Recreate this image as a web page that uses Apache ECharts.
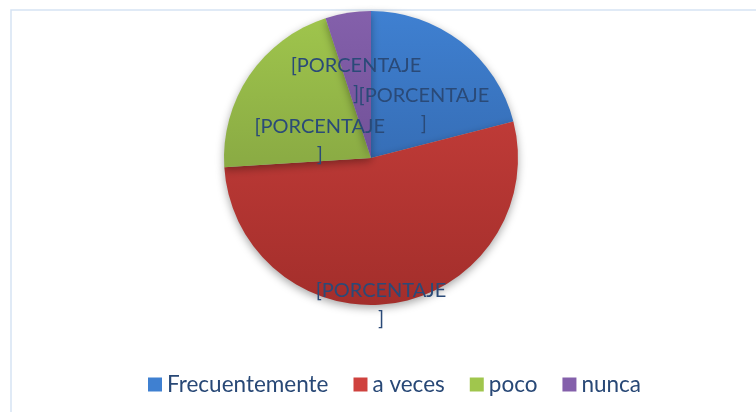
<!DOCTYPE html>
<html>
<head>
<meta charset="utf-8">
<script src="https://cdn.jsdelivr.net/npm/echarts@6/dist/echarts.min.js"></script>
<style>
  html, body { margin: 0; padding: 0; background: #fff; }
  #chart { width: 756px; height: 412px; }
</style>
</head>
<body>
<div id="chart"></div>
<script>
var categories = ['Frecuentemente', 'a veces', 'poco', 'nunca'];
var values = [21, 53, 21, 5];
var labelText = '[PORCENTAJE\n]';

// top / bottom colours of each slice (office style gradient)
var topColors = ['#3f80d1', '#cf423e', '#a0c64d', '#8460ab'];
var bottomColors = ['#2d5c9c', '#a32e2b', '#76923b', '#5f4386'];

// small nudges so the labels sit where the original put them
var labelShift = [[6, 12], [-2, 71], [12, 26], [-3, -3]];

var chart = echarts.init(document.getElementById('chart'));

var pieData = categories.map(function (name, i) {
    return {
        name: name,
        value: values[i],
        itemStyle: {
            color: {
                type: 'linear', x: 0, y: 11, x2: 0, y2: 305, global: true,
                colorStops: [
                    {offset: 0, color: topColors[i]},
                    {offset: 1, color: bottomColors[i]}
                ]
            }
        }
    };
});

var option = {
    animation: false,
    backgroundColor: '#fff',
    graphic: [
        {
            type: 'rect',
            shape: {x: 11, y: 10, width: 900, height: 600},
            style: {fill: 'none', stroke: '#d6e3f3', lineWidth: 1.5},
            silent: true
        }
    ],
    legend: {
        data: categories,
        top: 368,
        left: 143,
        icon: 'rect',
        itemWidth: 14,
        itemHeight: 14,
        itemGap: 25,
        textStyle: {
            fontFamily: 'Lato',
            fontSize: 22.5,
            color: '#284876'
        }
    },
    series: [
        {
            type: 'pie',
            center: [371, 158],
            radius: [0, 147],
            startAngle: 90,
            clockwise: true,
            data: pieData,
            itemStyle: {
                borderWidth: 0,
                shadowBlur: 8,
                shadowOffsetY: 3,
                shadowColor: 'rgba(0,0,0,0.35)'
            },
            label: {
                show: true,
                position: 'inside',
                formatter: labelText,
                fontFamily: 'Lato',
                fontSize: 20,
                lineHeight: 28,
                color: '#2a4a78',
                align: 'center'
            },
            labelLine: {show: false},
            labelLayout: function (params) {
                var s = labelShift[params.dataIndex];
                return {dx: s[0], dy: s[1]};
            },
            emphasis: {disabled: true}
        }
    ]
};

chart.setOption(option);
window.onresize = chart.resize;
</script>
</body>
</html>
